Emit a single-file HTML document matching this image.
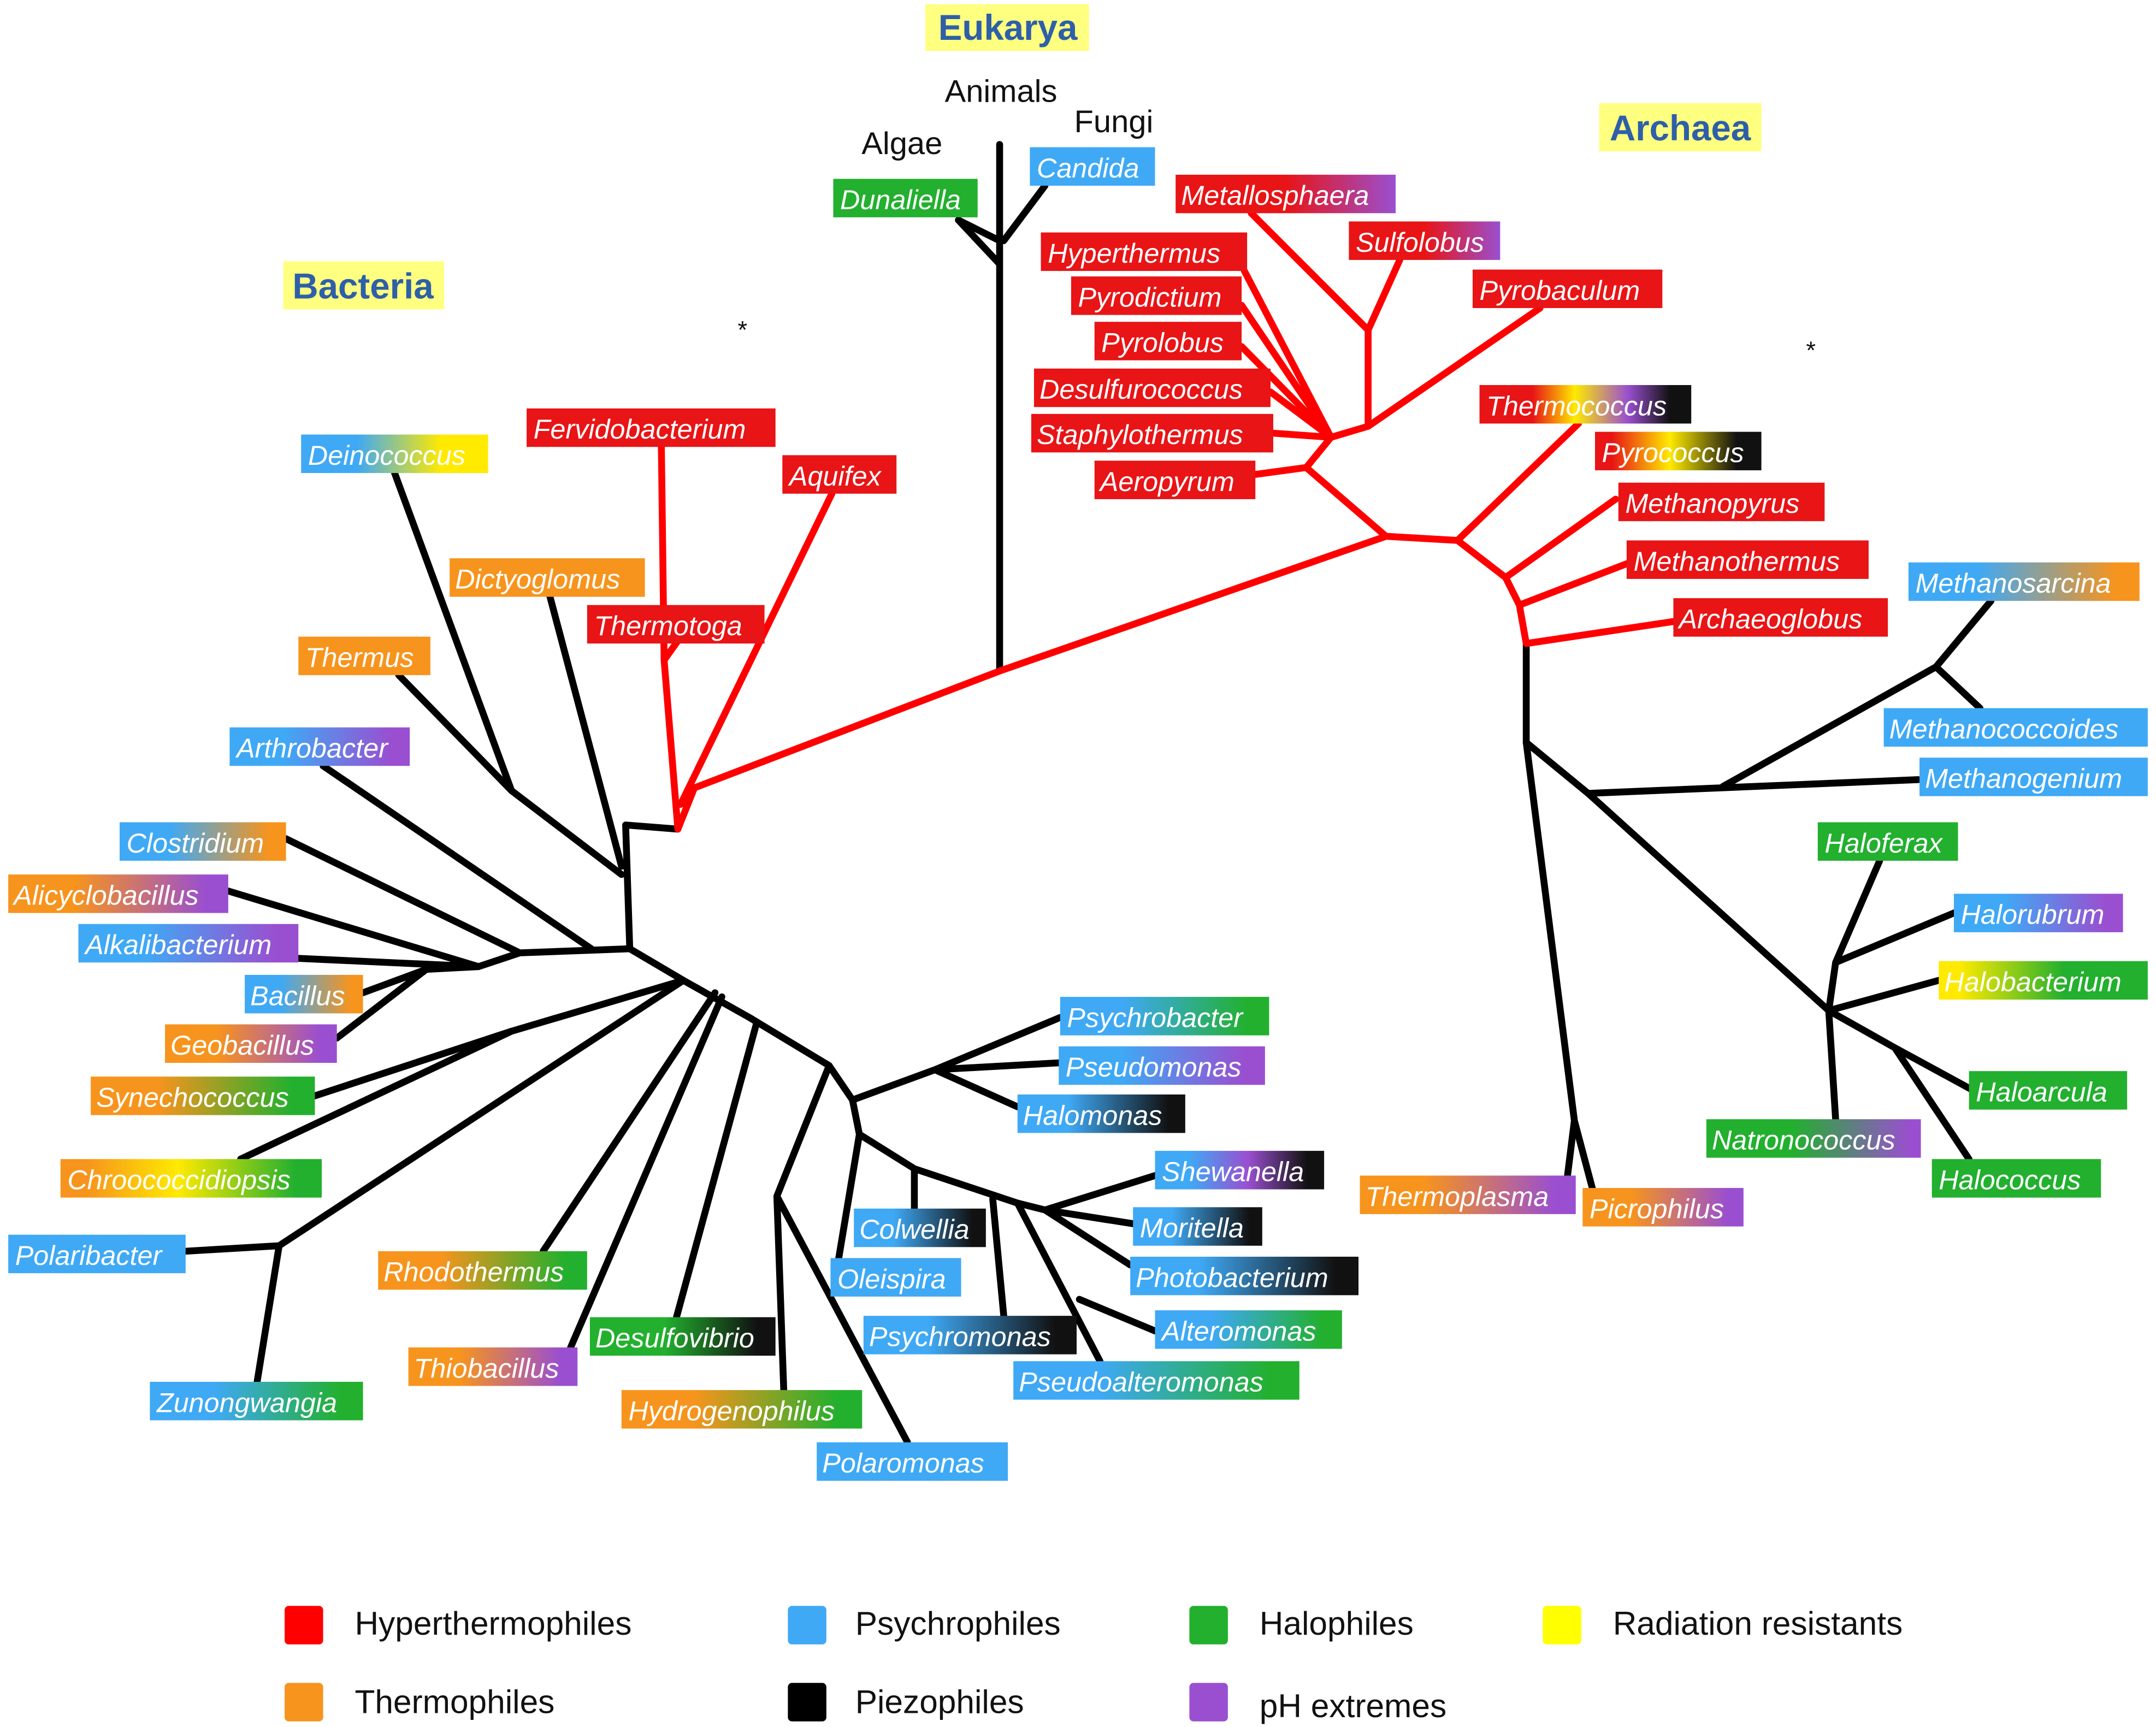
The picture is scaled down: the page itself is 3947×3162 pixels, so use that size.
<!DOCTYPE html>
<html><head><meta charset="utf-8"><style>
html,body{margin:0;padding:0;background:#fff}
svg{display:block}
.l text{font-family:"Liberation Sans",sans-serif;font-style:italic;fill:#fff;font-size:20px}
</style></head><body>
<svg width="3947" height="3162" viewBox="0 0 1568 1256" xmlns="http://www.w3.org/2000/svg">
<defs>
<linearGradient id="g_rp"><stop offset="0.5" stop-color="#e81416"/><stop offset="1" stop-color="#9a4fd0"/></linearGradient>
<linearGradient id="g_ryb"><stop offset="0.25" stop-color="#e81416"/><stop offset="0.45" stop-color="#ffea00"/><stop offset="0.7" stop-color="#9a4fd0"/><stop offset="0.9" stop-color="#111"/></linearGradient>
<linearGradient id="g_rybk"><stop offset="0.1" stop-color="#e81416"/><stop offset="0.45" stop-color="#ffea00"/><stop offset="0.85" stop-color="#111"/></linearGradient>
<linearGradient id="g_bo"><stop offset="0.3" stop-color="#3fa9f5"/><stop offset="0.9" stop-color="#f7941d"/></linearGradient>
<linearGradient id="g_bp"><stop offset="0.3" stop-color="#3fa9f5"/><stop offset="0.9" stop-color="#9a4fd0"/></linearGradient>
<linearGradient id="g_yg"><stop offset="0.1" stop-color="#ffea00"/><stop offset="0.6" stop-color="#22b02e"/></linearGradient>
<linearGradient id="g_gp"><stop offset="0.4" stop-color="#22b02e"/><stop offset="0.95" stop-color="#9a4fd0"/></linearGradient>
<linearGradient id="g_op"><stop offset="0.3" stop-color="#f7941d"/><stop offset="0.9" stop-color="#9a4fd0"/></linearGradient>
<linearGradient id="g_by"><stop offset="0.3" stop-color="#3fa9f5"/><stop offset="0.75" stop-color="#ffea00"/></linearGradient>
<linearGradient id="g_og"><stop offset="0.3" stop-color="#f7941d"/><stop offset="0.9" stop-color="#22b02e"/></linearGradient>
<linearGradient id="g_oyg"><stop offset="0.1" stop-color="#f7941d"/><stop offset="0.45" stop-color="#ffea00"/><stop offset="0.9" stop-color="#22b02e"/></linearGradient>
<linearGradient id="g_bg"><stop offset="0.3" stop-color="#3fa9f5"/><stop offset="0.9" stop-color="#22b02e"/></linearGradient>
<linearGradient id="g_gk"><stop offset="0.4" stop-color="#22b02e"/><stop offset="0.9" stop-color="#111"/></linearGradient>
<linearGradient id="g_bk"><stop offset="0.3" stop-color="#3fa9f5"/><stop offset="0.9" stop-color="#111"/></linearGradient>
<linearGradient id="g_bpk"><stop offset="0.2" stop-color="#3fa9f5"/><stop offset="0.55" stop-color="#9a4fd0"/><stop offset="0.9" stop-color="#111"/></linearGradient>
</defs>

<!-- headers -->
<rect x="673" y="3" width="119" height="34" fill="#ffff80"/>
<text x="733" y="29" font-family="Liberation Sans,sans-serif" font-weight="bold" font-size="26" fill="#2e5fa8" text-anchor="middle">Eukarya</text>
<rect x="1163" y="75" width="118" height="35" fill="#ffff80"/>
<text x="1222" y="102" font-family="Liberation Sans,sans-serif" font-weight="bold" font-size="26" fill="#2e5fa8" text-anchor="middle">Archaea</text>
<rect x="206" y="190" width="117" height="35" fill="#ffff80"/>
<text x="264" y="217" font-family="Liberation Sans,sans-serif" font-weight="bold" font-size="26" fill="#2e5fa8" text-anchor="middle">Bacteria</text>
<g font-family="Liberation Sans,sans-serif" font-size="23" fill="#111" text-anchor="middle">
<text x="728" y="74">Animals</text><text x="810" y="96">Fungi</text><text x="656" y="112">Algae</text>
<text x="540" y="246" font-size="18">*</text><text x="1317" y="261" font-size="18">*</text>
</g>

<!-- black lines -->
<g stroke="#000" stroke-width="5" fill="none" stroke-linecap="round" stroke-linejoin="round">
<path d="M727 488V105M727 175L697 160M697 160L727 192M760 135L730 175"/>
<path d="M1110 468V540L1155 577L1395 567M1253 572L1408 485L1448 437M1408 485L1440 515"/>
<path d="M1110 540L1145 815L1140 855M1145 815L1158 864"/>
<path d="M1155 577L1330 735L1335 700L1367 626M1335 700L1421 664M1330 735L1410 713M1330 735L1378 762L1435 793M1378 762L1432 843M1330 735L1335 814"/>
<path d="M493 603L455 600L458 690M452 630L400 434M452 636L372 575L287 344M372 575L290 491M430 690L235 557"/>
<path d="M458 690L378 693L208 610M378 693L348 703L166 648M348 703L217 697M348 703L310 705L264 722M310 705L245 755"/>
<path d="M458 690L497 713L372 750L229 797M372 750L175 843M497 713L203 906L135 910M203 906L187 1005"/>
<path d="M520 722L395 910M525 725L415 980M550 745L492 958"/>
<path d="M497 713L545 740L603 775L565 870L570 1011M565 870L660 1049"/>
<path d="M603 775L620 800L680 778L771 740M680 778L770 773M680 778L740 805"/>
<path d="M620 800L625 825L610 915M625 825L665 850L665 879M665 850L740 875L760 880L840 855M760 880L824 890M760 880L822 920M740 875L800 990M785 945L840 968M722 872L730 957"/>
</g>
<!-- red lines -->
<g stroke="#ff0000" stroke-width="5" fill="none" stroke-linecap="round" stroke-linejoin="round">
<path d="M493 603L505 573L727 488L1008 390M493 603L483 480L481 325M483 480L493 466M495 585L605 359"/>
<path d="M1008 390L950 340L968 318L905 197M968 318L903 222M968 318L903 252M968 318L924 285M968 318L926 315M950 340L913 345"/>
<path d="M968 318L995 310V240L910 155M995 240L1018 189M995 310L1120 224"/>
<path d="M1008 390L1060 393L1148 308M1060 393L1095 420L1175 363M1095 420L1105 440L1183 410M1105 440L1110 468L1217 452"/>
</g>

<!-- labels -->
<g class="l">
<rect x="749" y="107" width="91" height="28" fill="#3fa9f5"/><text x="754" y="129">Candida</text>
<rect x="606" y="130" width="105" height="28" fill="#22b02e"/><text x="611" y="152">Dunaliella</text>
<rect x="855" y="127" width="160" height="28" fill="url(#g_rp)"/><text x="859" y="149">Metallosphaera</text>
<rect x="981" y="161" width="110" height="28" fill="url(#g_rp)"/><text x="986" y="183">Sulfolobus</text>
<rect x="757" y="169" width="150" height="28" fill="#e81416"/><text x="762" y="191">Hyperthermus</text>
<rect x="1071" y="196" width="138" height="28" fill="#e81416"/><text x="1076" y="218">Pyrobaculum</text>
<rect x="779" y="201" width="124" height="28" fill="#e81416"/><text x="784" y="223">Pyrodictium</text>
<rect x="796" y="234" width="107" height="28" fill="#e81416"/><text x="801" y="256">Pyrolobus</text>
<rect x="752" y="268" width="172" height="28" fill="#e81416"/><text x="756" y="290">Desulfurococcus</text>
<rect x="750" y="301" width="176" height="28" fill="#e81416"/><text x="754" y="323">Staphylothermus</text>
<rect x="796" y="335" width="117" height="28" fill="#e81416"/><text x="800" y="357">Aeropyrum</text>
<rect x="1076" y="280" width="154" height="28" fill="url(#g_ryb)"/><text x="1081" y="302">Thermococcus</text>
<rect x="1160" y="314" width="121" height="28" fill="url(#g_rybk)"/><text x="1165" y="336">Pyrococcus</text>
<rect x="1177" y="351" width="150" height="28" fill="#e81416"/><text x="1182" y="373">Methanopyrus</text>
<rect x="1183" y="393" width="176" height="28" fill="#e81416"/><text x="1188" y="415">Methanothermus</text>
<rect x="1217" y="435" width="156" height="28" fill="#e81416"/><text x="1221" y="457">Archaeoglobus</text>
<rect x="1388" y="409" width="168" height="28" fill="url(#g_bo)"/><text x="1393" y="431">Methanosarcina</text>
<rect x="1370" y="515" width="192" height="28" fill="#3fa9f5"/><text x="1374" y="537">Methanococcoides</text>
<rect x="1396" y="551" width="166" height="28" fill="#3fa9f5"/><text x="1400" y="573">Methanogenium</text>
<rect x="1322" y="598" width="102" height="28" fill="#22b02e"/><text x="1327" y="620">Haloferax</text>
<rect x="1421" y="650" width="123" height="28" fill="url(#g_bp)"/><text x="1426" y="672">Halorubrum</text>
<rect x="1410" y="699" width="152" height="28" fill="url(#g_yg)"/><text x="1414" y="721">Halobacterium</text>
<rect x="1432" y="779" width="115" height="28" fill="#22b02e"/><text x="1437" y="801">Haloarcula</text>
<rect x="1241" y="814" width="156" height="28" fill="url(#g_gp)"/><text x="1245" y="836">Natronococcus</text>
<rect x="1405" y="843" width="123" height="28" fill="#22b02e"/><text x="1410" y="865">Halococcus</text>
<rect x="989" y="855" width="157" height="28" fill="url(#g_op)"/><text x="993" y="877">Thermoplasma</text>
<rect x="1151" y="864" width="117" height="28" fill="url(#g_op)"/><text x="1156" y="886">Picrophilus</text>
<rect x="219" y="316" width="136" height="28" fill="url(#g_by)"/><text x="224" y="338">Deinococcus</text>
<rect x="383" y="297" width="181" height="28" fill="#e81416"/><text x="388" y="319">Fervidobacterium</text>
<rect x="569" y="331" width="83" height="28" fill="#e81416"/><text x="574" y="353">Aquifex</text>
<rect x="327" y="406" width="142" height="28" fill="#f7941d"/><text x="331" y="428">Dictyoglomus</text>
<rect x="427" y="440" width="129" height="28" fill="#e81416"/><text x="432" y="462">Thermotoga</text>
<rect x="217" y="463" width="96" height="28" fill="#f7941d"/><text x="222" y="485">Thermus</text>
<rect x="167" y="529" width="131" height="28" fill="url(#g_bp)"/><text x="172" y="551">Arthrobacter</text>
<rect x="87" y="598" width="121" height="28" fill="url(#g_bo)"/><text x="92" y="620">Clostridium</text>
<rect x="6" y="636" width="160" height="28" fill="url(#g_op)"/><text x="10" y="658">Alicyclobacillus</text>
<rect x="57" y="672" width="160" height="28" fill="url(#g_bp)"/><text x="62" y="694">Alkalibacterium</text>
<rect x="178" y="709" width="86" height="28" fill="url(#g_bo)"/><text x="182" y="731">Bacillus</text>
<rect x="120" y="745" width="125" height="28" fill="url(#g_op)"/><text x="124" y="767">Geobacillus</text>
<rect x="66" y="783" width="163" height="28" fill="url(#g_og)"/><text x="70" y="805">Synechococcus</text>
<rect x="44" y="843" width="190" height="28" fill="url(#g_oyg)"/><text x="49" y="865">Chroococcidiopsis</text>
<rect x="6" y="898" width="129" height="28" fill="#3fa9f5"/><text x="11" y="920">Polaribacter</text>
<rect x="109" y="1005" width="155" height="28" fill="url(#g_bg)"/><text x="114" y="1027">Zunongwangia</text>
<rect x="275" y="910" width="152" height="28" fill="url(#g_og)"/><text x="279" y="932">Rhodothermus</text>
<rect x="297" y="980" width="123" height="28" fill="url(#g_op)"/><text x="301" y="1002">Thiobacillus</text>
<rect x="429" y="958" width="135" height="28" fill="url(#g_gk)"/><text x="433" y="980">Desulfovibrio</text>
<rect x="452" y="1011" width="175" height="28" fill="url(#g_og)"/><text x="457" y="1033">Hydrogenophilus</text>
<rect x="594" y="1049" width="139" height="28" fill="#3fa9f5"/><text x="598" y="1071">Polaromonas</text>
<rect x="771" y="725" width="152" height="28" fill="url(#g_bg)"/><text x="776" y="747">Psychrobacter</text>
<rect x="770" y="761" width="150" height="28" fill="url(#g_bp)"/><text x="775" y="783">Pseudomonas</text>
<rect x="740" y="796" width="122" height="28" fill="url(#g_bk)"/><text x="744" y="818">Halomonas</text>
<rect x="840" y="837" width="123" height="28" fill="url(#g_bpk)"/><text x="845" y="859">Shewanella</text>
<rect x="621" y="879" width="96" height="28" fill="url(#g_bk)"/><text x="625" y="901">Colwellia</text>
<rect x="824" y="878" width="94" height="28" fill="url(#g_bk)"/><text x="829" y="900">Moritella</text>
<rect x="604" y="915" width="95" height="28" fill="#3fa9f5"/><text x="609" y="937">Oleispira</text>
<rect x="822" y="914" width="166" height="28" fill="url(#g_bk)"/><text x="826" y="936">Photobacterium</text>
<rect x="628" y="957" width="155" height="28" fill="url(#g_bk)"/><text x="632" y="979">Psychromonas</text>
<rect x="840" y="953" width="136" height="28" fill="url(#g_bg)"/><text x="845" y="975">Alteromonas</text>
<rect x="737" y="990" width="208" height="28" fill="url(#g_bg)"/><text x="741" y="1012">Pseudoalteromonas</text>
</g>

<!-- legend -->
<g font-family="Liberation Sans,sans-serif" font-size="24" fill="#111">
<rect x="207" y="1168" width="28" height="28" rx="3" fill="#ff0000"/><text x="258" y="1189">Hyperthermophiles</text>
<rect x="573" y="1168" width="28" height="28" rx="3" fill="#3fa9f5"/><text x="622" y="1189">Psychrophiles</text>
<rect x="865" y="1168" width="28" height="28" rx="3" fill="#22b02e"/><text x="916" y="1189">Halophiles</text>
<rect x="1122" y="1168" width="28" height="28" rx="3" fill="#ffff00"/><text x="1173" y="1189">Radiation resistants</text>
<rect x="207" y="1224" width="28" height="28" rx="3" fill="#f7941d"/><text x="258" y="1246">Thermophiles</text>
<rect x="573" y="1224" width="28" height="28" rx="3" fill="#000"/><text x="622" y="1246">Piezophiles</text>
<rect x="865" y="1224" width="28" height="28" rx="3" fill="#9a4fd0"/><text x="916" y="1249">pH extremes</text>
</g>
</svg>
</body></html>
